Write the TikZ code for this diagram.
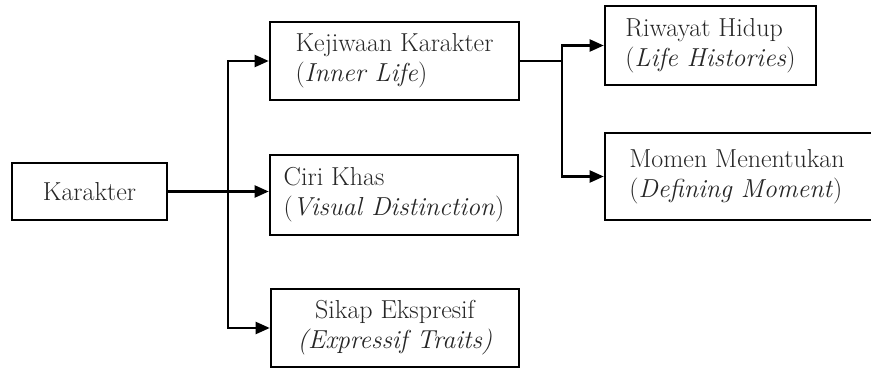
\documentclass[tikz,border=0pt]{standalone}
\usetikzlibrary{arrows.meta}
\begin{document}
\begin{tikzpicture}[x=1pt,y=-1pt,
  box/.style={draw=black,line width=2.6pt,rectangle,inner sep=0pt,align=left,
    text=black!85,font=\fontsize{26}{30}\selectfont},
  conn/.style={line width=2.2pt,-{Triangle[length=14pt,width=12pt]}},
  plain/.style={line width=2.2pt}]
\useasboundingbox (0,0) rectangle (871,369);
\node[box,minimum width=155pt,minimum height=57pt] (kar) at (89.5,191.5) {Karakter};
\node[box,minimum width=249pt,minimum height=78pt] (kej) at (394.5,61) {Kejiwaan Karakter\\(\textit{Inner Life})};
\node[box,minimum width=248pt,minimum height=80pt] (ciri) at (394,195) {Ciri Khas\\(\textit{Visual Distinction})};
\node[box,align=center,minimum width=248pt,minimum height=78pt] (sik) at (395,328) {Sikap Ekspresif\\\textit{(Expressif Traits)}};
\node[box,minimum width=211pt,minimum height=79pt] (riw) at (710.5,45.5) {Riwayat Hidup\\(\textit{Life Histories})};
\node[box,minimum width=270pt,minimum height=87pt] (mom) at (740,176.5) {\hspace*{-6pt}Momen Menentukan\\\hspace*{-6pt}(\textit{Defining Moment})};
\coordinate (t) at (228,191.5);
\coordinate (b) at (562,61);
\draw[conn] (kar.east) -- (kar.east -| ciri.west);
\draw[conn] (t) |- (kej.west);
\draw[conn] (t) |- (sik.west);
\draw[plain] (kej.east) -- (b);
\draw[conn] (b) |- (riw.west);
\draw[conn] (b) |- (mom.west);
\end{tikzpicture}
\end{document}
